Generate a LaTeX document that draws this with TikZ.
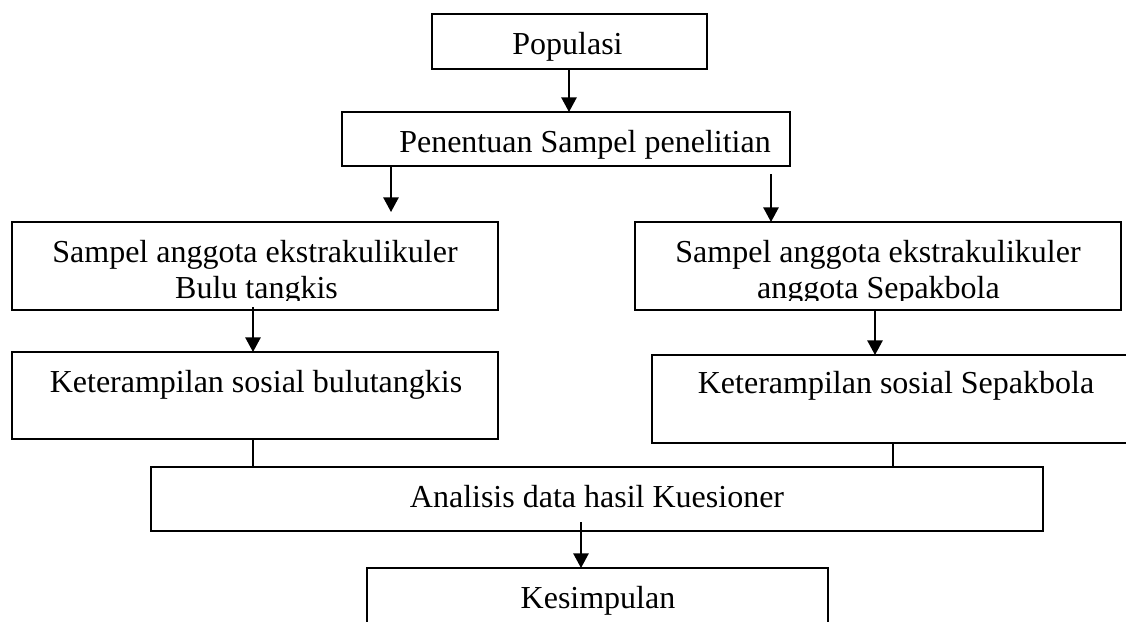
\documentclass[tikz,border=0pt]{standalone}
\usepackage{fontspec}
\setmainfont{Liberation Serif}
\usetikzlibrary{arrows.meta}
\tikzset{
  boxshape/.style={draw=black, line width=1.2pt, rectangle, inner sep=0pt, outer sep=0pt},
  lbl/.style={inner sep=0pt, outer sep=0pt, anchor=base, font=\fontsize{24}{28}\selectfont},
  arr/.style={line width=1.3pt, -{Triangle[length=11pt,width=11.5pt]}},
  lnk/.style={line width=1.3pt},
}
\newcommand{\pxbox}[5]{%
  \node[boxshape, minimum width={(#4-#2)*0.75pt}, minimum height={(#5-#3)*0.75pt}] (#1) at ({(#2+#4)/2},{(#3+#5)/2}) {};}
\begin{document}
\begin{tikzpicture}[x=0.75pt, y=-0.75pt]
\clip (0,0) rectangle (1126,621);
\fill[white] (0,0) rectangle (1126,621);
% boxes
\pxbox{pop}{432}{14}{707}{69}
\pxbox{pen}{342}{112}{790}{166}
\pxbox{lsam}{12}{222}{498}{310}
\pxbox{rsam}{635}{222}{1121}{310}
\pxbox{lket}{12}{352}{498}{439}
\pxbox{rket}{652}{355}{1140}{443}
\pxbox{ana}{151}{467}{1043}{531}
\pxbox{kes}{367}{568}{828}{680}
% texts
\node[lbl] (tpop) at (567.5,54) {Populasi};
\node[lbl] (tpen) at (585,152) {Penentuan Sampel penelitian};
\node[lbl] (tlsam1) at (255,262) {Sampel anggota ekstrakulikuler};
\node[lbl] (trsam1) at (878,262) {Sampel anggota ekstrakulikuler};
\begin{scope}
\clip (0,0) rectangle (1126,300);
\node[lbl] (tlsam2) at (256.5,298) {Bulu tangkis};
\node[lbl] (trsam2) at (878.5,298) {anggota Sepakbola};
\end{scope}
\node[lbl] (tlket) at (256,392) {Keterampilan sosial bulutangkis};
\node[lbl] (trket) at (896,393) {Keterampilan sosial Sepakbola};
\node[lbl] (tana) at (597,507) {Analisis data hasil Kuesioner};
\node[lbl] (tkes) at (598,608) {Kesimpulan};
% connectors
\draw[arr] (569,0 |- pop.south) -- (569,0 |- pen.north);
\coordinate (a1) at (391,212);
\draw[arr] (pen.south -| a1) -- (a1);
\coordinate (a2) at (771,174);
\draw[arr] (a2) -- (a2 |- rsam.north);
\coordinate (a3) at (253,307);
\draw[arr] (a3) -- (a3 |- lket.north);
\coordinate (a4) at (875,0);
\draw[arr] (a4 |- rsam.south) -- (a4 |- rket.north);
\coordinate (l1) at (253,0);
\draw[lnk] (l1 |- lket.south) -- (l1 |- ana.north);
\coordinate (l2) at (893,0);
\draw[lnk] (l2 |- rket.south) -- (l2 |- ana.north);
\coordinate (a5) at (581,522);
\draw[arr] (a5) -- (a5 |- kes.north);
\end{tikzpicture}
\end{document}
